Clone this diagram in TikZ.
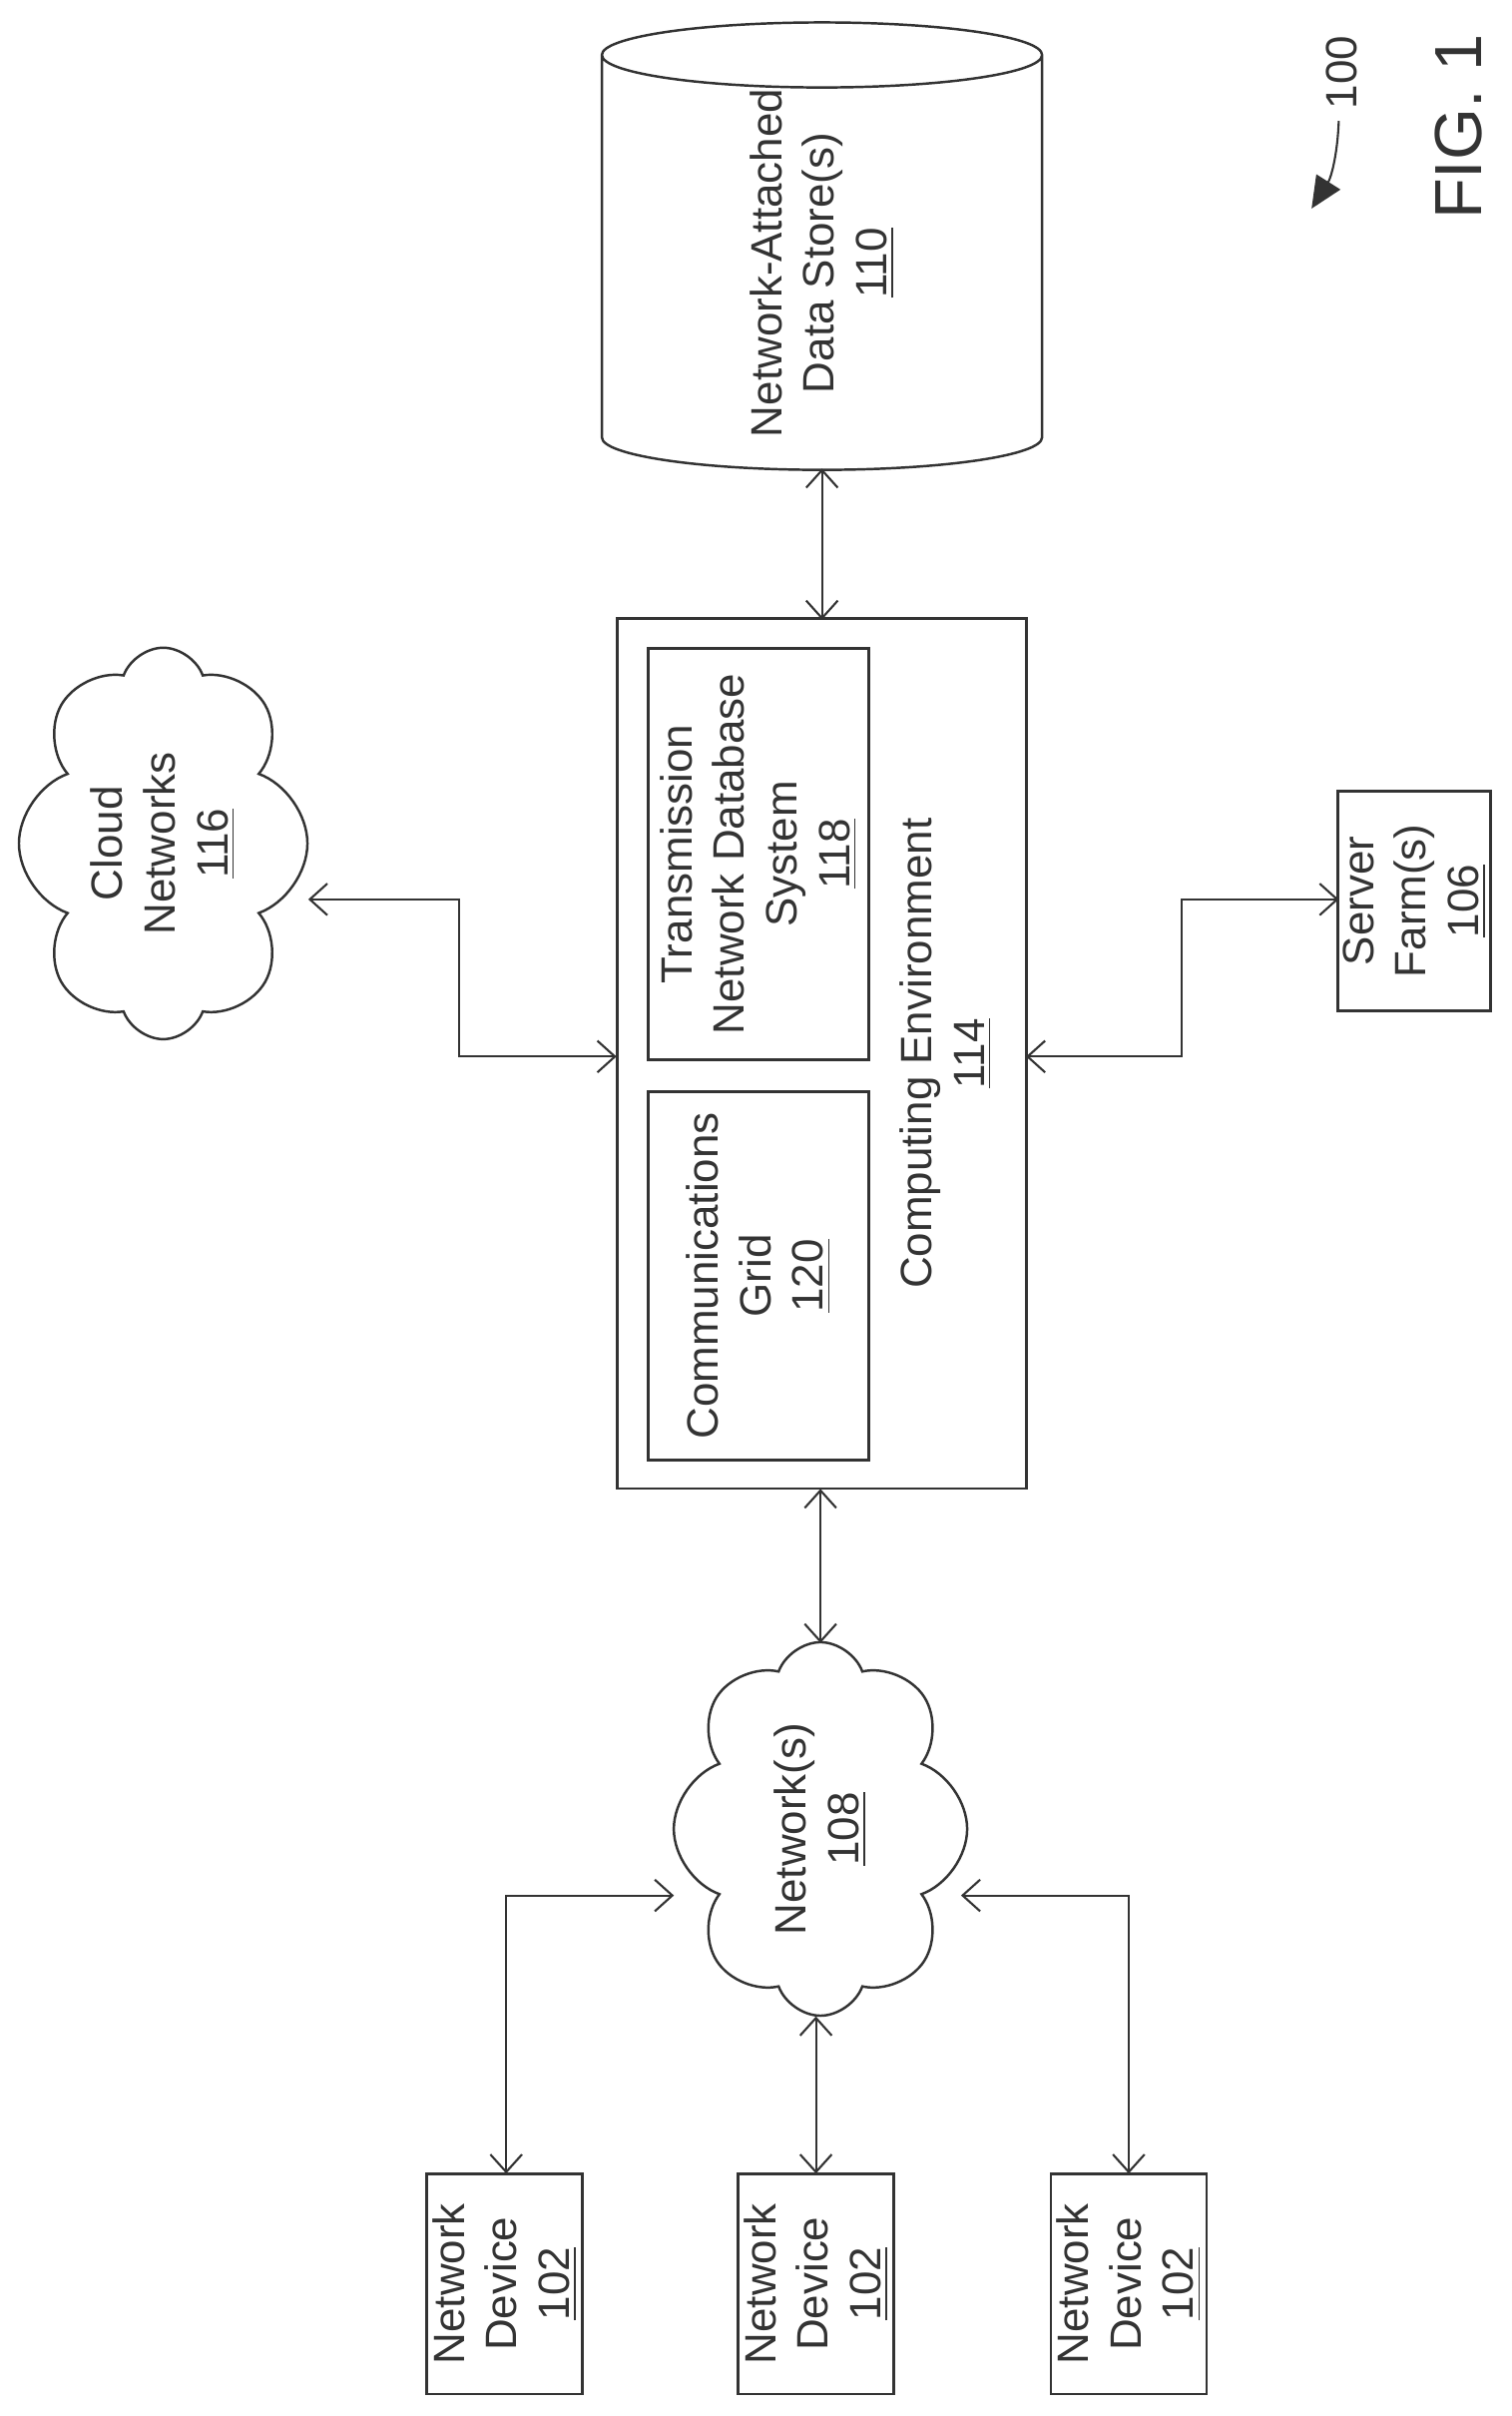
\documentclass[tikz,border=0pt]{standalone}
\usepackage{fontspec}
\setmainfont{Liberation Sans}
\usetikzlibrary{shapes.geometric,shapes.symbols,arrows.meta}
\definecolor{ink}{gray}{0.2}
\begin{document}
\begin{tikzpicture}[x=0.01514cm,y=-0.01514cm,
  every node/.style={font=\fontsize{12.5}{15}\selectfont,align=center,text=ink},
  box/.style={draw=ink,line width=0.7pt,rotate=90,inner sep=0pt},
  arr/.style={draw=ink,line width=0.6pt,{Straight Barb[length=5pt,width=9pt]}-{Straight Barb[length=5pt,width=9pt]}}]
\useasboundingbox (0,0) rectangle (1000,1598.4);
% devices
\node[box,minimum width=2.20cm,minimum height=1.56cm] (d1) at (334,1511) {Network\\Device\\\underline{102}};
\node[box,minimum width=2.20cm,minimum height=1.56cm] (d2) at (540,1511) {Network\\Device\\\underline{102}};
\node[box,minimum width=2.20cm,minimum height=1.56cm] (d3) at (747,1511) {Network\\Device\\\underline{102}};
% clouds
\node[box,cloud,cloud puffs=8,cloud puff arc=140,aspect=1.3,minimum width=3.74cm,minimum height=2.85cm] (net) at (543,1210) {Network(s)\\\underline{108}};
\node[box,cloud,cloud puffs=8,cloud puff arc=140,aspect=1.35,minimum width=3.92cm,minimum height=2.89cm] (cn) at (108,558) {Cloud\\Networks\\\underline{116}};
% computing environment
\node[box,minimum width=8.71cm,minimum height=4.10cm] (ce) at (544,697) {};
\node[rotate=90] (cet) at (626,697) {Computing Environment\\\underline{114}};
\node[box,minimum width=3.69cm,minimum height=2.21cm] (cg) at (502,844) {Communications\\Grid\\\underline{120}};
\node[box,minimum width=4.12cm,minimum height=2.21cm] (tn) at (502,565) {Transmission\\Network Database\\System\\\underline{118}};
% server farm
\node[box,minimum width=2.20cm,minimum height=1.53cm] (sf) at (936,596) {Server\\Farm(s)\\\underline{106}};
% data store
\node[box,cylinder,shape aspect=0.45,minimum width=4.41cm,minimum height=2.53cm] (ds) at (544,174) {Network-Attached\\Data Store(s)\\\underline{110}};
% labels
\node[rotate=90] (l100) at (888,48) {100};
\node[rotate=90,font=\fontsize{19}{22}\selectfont] (fig) at (965,84) {FIG. 1};
\coordinate (a1) at (886,80);
\coordinate (a2) at (868,138);
\draw[draw=ink,line width=0.6pt,-{Triangle[length=9pt,width=8pt]}] (a1) to[bend left=15] (a2);
% connectors
\coordinate (p1) at (335,1438); \coordinate (q1) at (446,1254);
\draw[arr] (p1) |- (q1);
\coordinate (p2) at (540,1438); \coordinate (q2) at (540,1334);
\draw[arr] (p2) -- (q2);
\coordinate (p3) at (747,1438); \coordinate (q3) at (636,1254);
\draw[arr] (p3) |- (q3);
\coordinate (c1) at (543,1087); \coordinate (c2) at (543,985);
\draw[arr] (c1) -- (c2);
\coordinate (s1) at (544,310); \coordinate (s2) at (544,410);
\draw[arr] (s1) -- (s2);
\coordinate (k1) at (204,595); \coordinate (k2) at (408,699);
\draw[arr] (k1) -- (304,595) -- (304,699) -- (k2);
\coordinate (f1) at (679,699); \coordinate (f2) at (886,595);
\draw[arr] (f1) -- (782,699) -- (782,595) -- (f2);
\end{tikzpicture}
\end{document}
